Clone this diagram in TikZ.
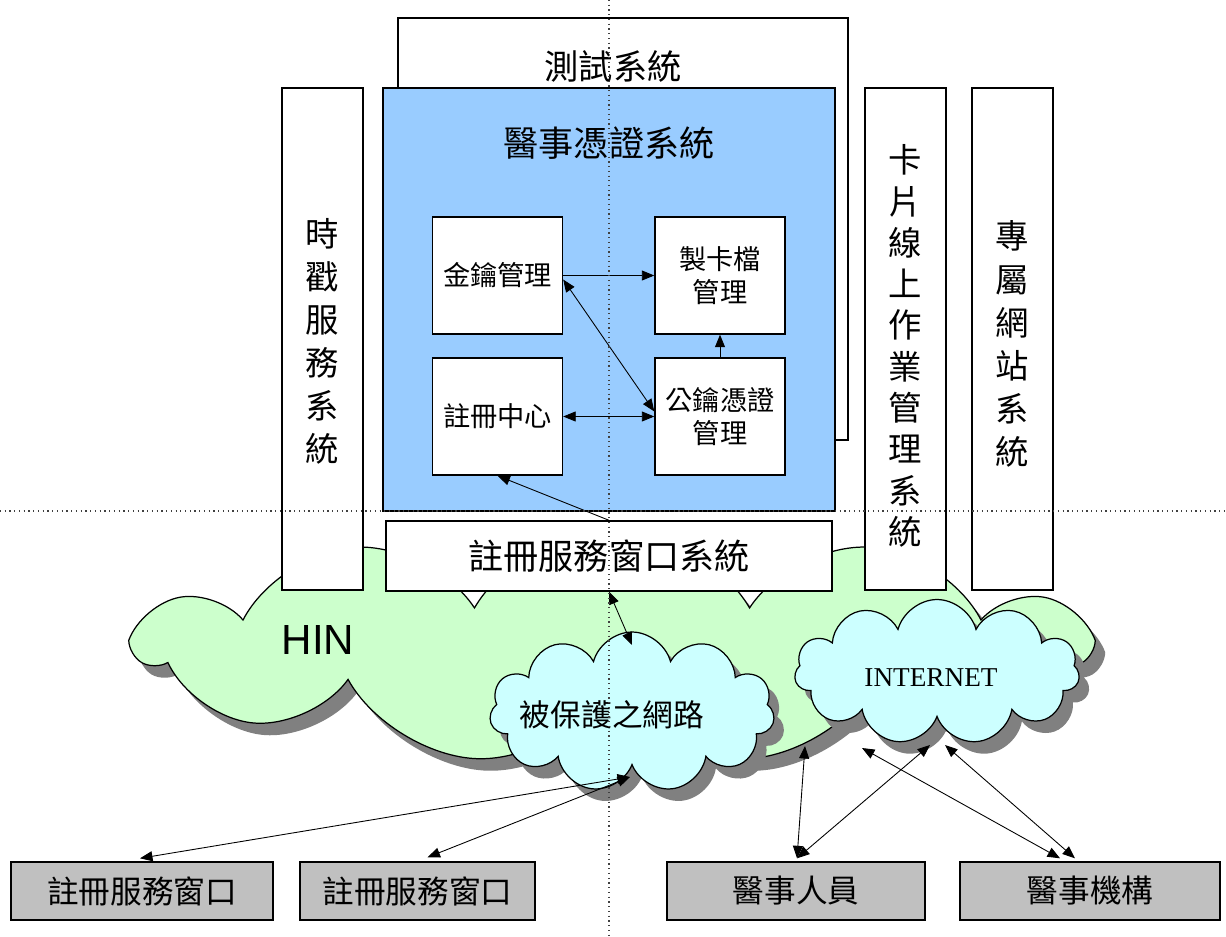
\documentclass[tikz,border=0pt]{standalone}
\usepackage{fontspec}
\setmainfont{Noto Sans CJK TC}
\newfontfamily\arialf{Liberation Sans}
\newfontfamily\timesf{Liberation Serif}
\usetikzlibrary{shapes.symbols,shadows,arrows.meta,calc}
\definecolor{sysblue}{HTML}{99CCFF}
\definecolor{hingreen}{HTML}{CCFFCC}
\definecolor{netblue}{HTML}{CCFFFF}
\definecolor{boxgray}{HTML}{C0C0C0}
\definecolor{shadowgray}{HTML}{808080}
\begin{document}
\begin{tikzpicture}[x=0.02cm,y=-0.02cm,
  box/.style={draw=black, line width=0.8pt, fill=white, inner sep=0pt},
  bluebox/.style={box, fill=sysblue},
  graybox/.style={box, fill=boxgray, font=\fontsize{18}{20}\selectfont},
  inner/.style={box, minimum width=2.6cm, minimum height=2.34cm, align=center, font=\fontsize{15.5}{19}\selectfont},
  vbox/.style={box, minimum width=1.62cm, minimum height=10.04cm},
  vtext/.style={align=center, inner sep=0pt},
  netcloud/.style={cloud, cloud ignores aspect, draw=black, line width=0.7pt,
     drop shadow={shadow xshift=0.2cm, shadow yshift=-0.24cm, fill=shadowgray, opacity=1}},
  biarr/.style={{Triangle[length=0.25cm,width=0.2cm]}-{Triangle[length=0.25cm,width=0.2cm]}, line width=0.5pt},
  toarr/.style={-{Triangle[length=0.25cm,width=0.2cm]}, line width=0.5pt},
  guide/.style={dotted, line width=0.7pt, black!75}
]
\useasboundingbox (0,0) rectangle (1226,936);

% test system and credential system
\node[box, minimum width=9.0cm, minimum height=8.44cm] (test) at (623,229) {};
\node[font=\fontsize{19.5}{22}\selectfont] (testlbl) at (613,66) {測試系統};
\node[bluebox, minimum width=9.04cm, minimum height=8.46cm] (cred) at (609,299.5) {};
\node[font=\fontsize{20}{22}\selectfont] (credlbl) at (609,143) {醫事憑證系統};

\node[inner] (k1) at (497.5,275.5) {金鑰管理};
\node[inner] (k2) at (720,275.5) {製卡檔\\管理};
\node[inner] (k3) at (497.5,416.5) {註冊中心};
\node[inner] (k4) at (720,416.5) {公鑰憑證\\管理};

\draw[toarr] (k1.east) -- (k2.west);
\draw[toarr] (k4.north) -- (k2.south);
\draw[biarr] ($(k1.east)+(0,4)$) -- ($(k4.west)+(0,-5)$);
\draw[biarr] (k3.east) -- (k4.west);

% HIN cloud
\node[netcloud, cloud puffs=11, cloud puff arc=120, fill=hingreen, minimum width=19.0cm, minimum height=4.7cm] (hin) at (612,646) {};

% vertical systems
\node[vbox] (ts) at (322.5,339) {};
\node[vtext, font=\fontsize{19}{24.5}\selectfont] (tslbl) at (322.5,341) {時\\戳\\服\\務\\系\\統};
\node[vbox] (card) at (905.5,339) {};
\node[vtext, font=\fontsize{19}{23.5}\selectfont] (cardlbl) at (905.5,346) {卡\\片\\線\\上\\作\\業\\管\\理\\系\\統};
\node[vbox] (web) at (1012.5,339) {};
\node[vtext, font=\fontsize{19}{24.5}\selectfont] (weblbl) at (1012.5,344) {專\\屬\\網\\站\\系\\統};

\node[box, minimum width=8.92cm, minimum height=1.4cm, font=\fontsize{20}{22}\selectfont] (reg) at (609,556) {註冊服務窗口系統};
\draw[toarr] (reg.north) -- (k3.south);

% sub clouds
\node[netcloud, cloud puffs=11, fill=netblue, minimum width=5.7cm, minimum height=3.2cm] (prot) at (632,712) {};
\node[font=\fontsize{17.5}{20}\selectfont] (protlbl) at (612,715) {被保護之網路};
\node[netcloud, cloud puffs=11, fill=netblue, minimum width=5.7cm, minimum height=2.9cm] (inet) at (937,672) {};
\node[font=\timesf\fontsize{15.5}{18}\selectfont] (inetlbl) at (931,678) {INTERNET};
\node[font=\arialf\fontsize{24}{26}\selectfont] (hinlbl) at (318,640) {HIN};

% bottom boxes
\node[graybox, minimum width=5.24cm, minimum height=1.16cm] (b1) at (142,891) {註冊服務窗口};
\node[graybox, minimum width=4.7cm, minimum height=1.16cm] (b2) at (417.5,891) {註冊服務窗口};
\node[graybox, minimum width=5.16cm, minimum height=1.16cm] (b3) at (796,891) {醫事人員};
\node[graybox, minimum width=5.2cm, minimum height=1.16cm] (b4) at (1090,891) {醫事機構};

% connection points on clouds
\coordinate (protTop) at (632,645);
\coordinate (protBot) at (630,777);
\coordinate (hinA) at (805,746);
\coordinate (hinB) at (862,748);
\coordinate (inetA) at (930,745);
\coordinate (inetB) at (945,745);

\draw[biarr] (reg.south) -- (protTop);
\draw[biarr] (protBot) -- ($(b1.north)+(-2,-3)$);
\draw[biarr] (protBot) -- ($(b2.north)+(10,-4)$);
\draw[biarr] (hinA) -- ($(b3.north)+(1,-3)$);
\draw[biarr] (inetA) -- ($(b3.north)+(1,-3)$);
\draw[biarr] (hinB) -- ($(b4.north)+(-30,-3)$);
\draw[biarr] (inetB) -- ($(b4.north)+(-15,-3)$);

% guide lines
\coordinate (gvt) at (609,0);
\coordinate (gvb) at (609,936);
\coordinate (ghl) at (0,511);
\coordinate (ghr) at (1226,511);
\draw[guide] (gvt) -- (gvb);
\draw[guide] (ghl) -- (ghr);
\end{tikzpicture}
\end{document}
